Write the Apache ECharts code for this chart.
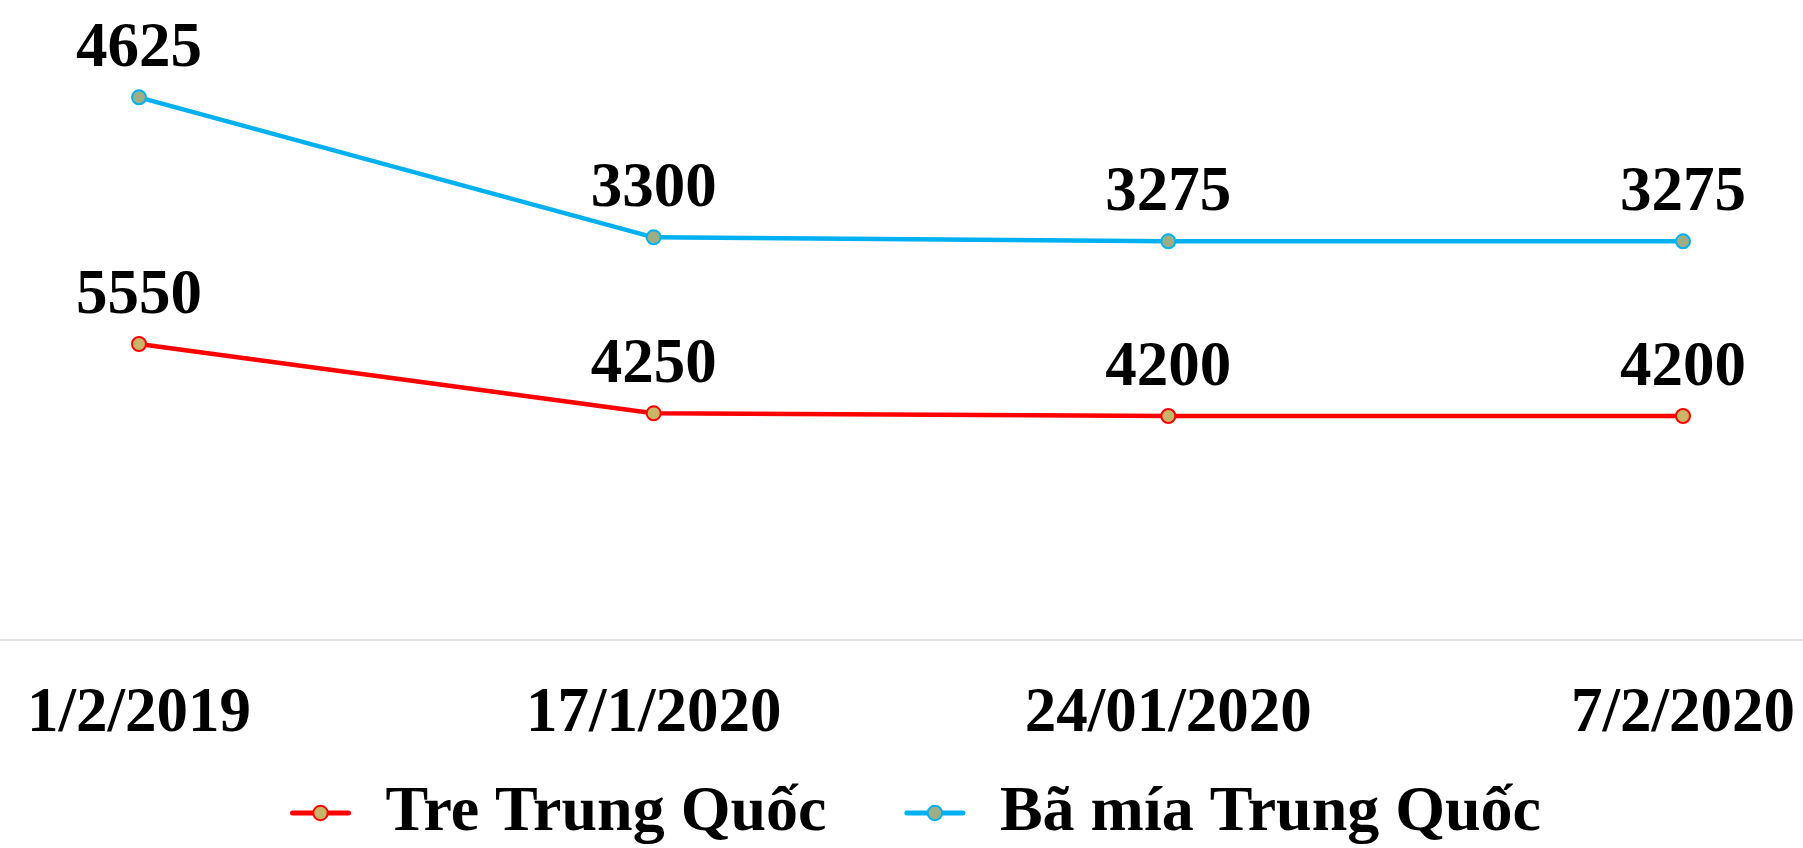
<!DOCTYPE html>
<html>
<head>
<meta charset="utf-8">
<script src="https://cdn.jsdelivr.net/npm/echarts@6/dist/echarts.min.js"></script>
<style>
html,body{margin:0;padding:0;background:#fff;}
#chart{width:1803px;height:848px;}
</style>
</head>
<body>
<div id="chart"></div>
<script>
var categories = ['1/2/2019', '17/1/2020', '24/01/2020', '7/2/2020'];
var treValues = [5550, 4250, 4200, 4200];
var baMiaValues = [4625, 3300, 3275, 3275];
var seriesNames = ['Tre Trung Quốc', 'Bã mía Trung Quốc'];

var FONT = '"Liberation Serif", "Times New Roman", serif';
var chart = echarts.init(document.getElementById('chart'));

function makeSeries(name, data, color, fill) {
  return {
    name: name,
    type: 'line',
    stack: 'total',
    xAxisIndex: 1,
    yAxisIndex: 1,
    data: data,
    symbol: 'circle',
    symbolSize: 14,
    lineStyle: { color: color, width: 4.5 },
    itemStyle: { color: fill, borderColor: color, borderWidth: 2 },
    label: {
      show: true,
      position: 'top',
      distance: 8,
      color: '#000',
      fontFamily: FONT,
      fontWeight: 'bold',
      fontSize: 63
    },
    emphasis: { disabled: true },
    animation: false
  };
}

chart.setOption({
  animation: false,
  backgroundColor: '#fff',
  grid: [
    { left: 0, right: 0, top: 0, bottom: 208, containLabel: false },
    { left: 139, right: 120, top: 0, bottom: 208, containLabel: false }
  ],
  legend: {
    data: seriesNames,
    left: 285,
    top: 776,
    itemWidth: 56,
    itemHeight: 18,
    itemGap: 78,
    lineStyle: { width: 5, cap: 'round' },
    textStyle: {
      color: '#000',
      fontFamily: FONT,
      fontWeight: 'bold',
      fontSize: 64,
      padding: [0, 0, 0, 32]
    }
  },
  xAxis: [
    {
      type: 'category',
      gridIndex: 0,
      data: categories,
      boundaryGap: false,
      axisLine: { show: true, lineStyle: { color: '#d9d9d9', width: 1.5 } },
      axisTick: { show: false },
      axisLabel: { show: false },
      splitLine: { show: false }
    },
    {
      type: 'category',
      gridIndex: 1,
      data: categories,
      boundaryGap: false,
      axisLine: { show: false },
      axisTick: { show: false },
      axisLabel: {
        interval: 0,
        margin: 43,
        color: '#000',
        fontFamily: FONT,
        fontWeight: 'bold',
        fontSize: 63
      },
      splitLine: { show: false }
    }
  ],
  yAxis: [
    { type: 'value', gridIndex: 0, min: 0, max: 12000, show: false, splitLine: { show: false } },
    { type: 'value', gridIndex: 1, min: 0, max: 12000, show: false, splitLine: { show: false } }
  ],
  series: [
    makeSeries(seriesNames[0], treValues, '#ff0000', '#c9b46a'),
    makeSeries(seriesNames[1], baMiaValues, '#00b0f0', '#9caf84')
  ]
});
</script>
</body>
</html>
